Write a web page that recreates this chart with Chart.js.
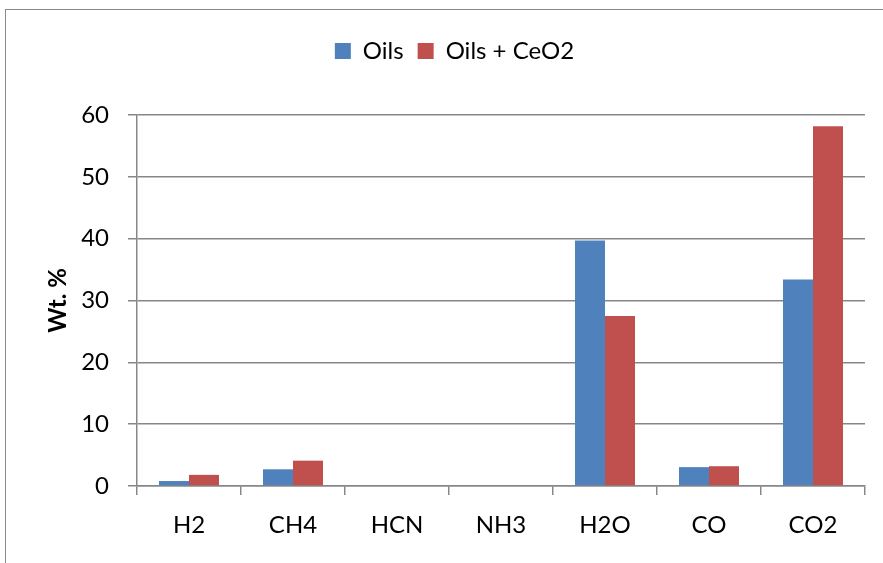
<!DOCTYPE html>
<html>
<head>
<meta charset="utf-8">
<script src="https://cdn.jsdelivr.net/npm/chart.js@4/dist/chart.umd.min.js"></script>
<style>
  html, body { margin: 0; padding: 0; background: #ffffff; overflow: hidden; }
  #wrap { position: relative; width: 883px; height: 563px; }
  #frame { position: absolute; left: 5px; top: 9px; width: 900px; height: 600px;
           border: 1.5px solid #8a8a8a; box-sizing: border-box; }
  canvas { position: absolute; left: 0; top: 0; }
</style>
</head>
<body>
<div id="wrap">
  <div id="frame"></div>
  <canvas id="chart" width="883" height="563"></canvas>
</div>
<script>
// Gas product distribution (wt. %)
const categories = ['H2', 'CH4', 'HCN', 'NH3', 'H2O', 'CO', 'CO2'];
const oils = [0.8, 2.7, 0, 0, 39.7, 3.05, 33.4];
const oilsCeO2 = [1.8, 4.1, 0, 0, 27.5, 3.2, 58.2];
const seriesNames = ['Oils', 'Oils + CeO2'];
const yTicks = [0, 10, 20, 30, 40, 50, 60];

const FONT = 'Lato, "Liberation Sans", sans-serif';
const GRID = '#878787';

// Leaves extra room between the legend and the plot area
const legendGap = {
  id: 'legendGap',
  beforeLayout(chart) {
    const lg = chart.legend;
    if (lg && !lg._gapWrapped) {
      const fit = lg.fit;
      lg.fit = function () { fit.call(this); this.height += 42; };
      lg._gapWrapped = true;
    }
  }
};

new Chart(document.getElementById('chart'), {
  type: 'bar',
  data: {
    labels: categories,
    datasets: [
      { label: seriesNames[0], data: oils, backgroundColor: '#4F81BD' },
      { label: seriesNames[1], data: oilsCeO2, backgroundColor: '#C0504D' }
    ]
  },
  plugins: [legendGap],
  options: {
    responsive: false,
    animation: false,
    events: [],
    layout: { padding: { left: 44, right: 18, top: 25, bottom: 0 } },
    datasets: { bar: { categoryPercentage: 0.577, barPercentage: 1.0 } },
    plugins: {
      tooltip: { enabled: false },
      legend: {
        position: 'top',
        labels: {
          font: { family: FONT, size: 24 },
          color: '#000000',
          boxWidth: 16,
          boxHeight: 16,
          padding: 14
        }
      }
    },
    scales: {
      x: {
        grid: { offset: true, drawOnChartArea: false, drawTicks: true, tickLength: 9,
                color: GRID, lineWidth: 1.5 },
        border: { color: GRID, width: 1.5 },
        ticks: { font: { family: FONT, size: 24 }, color: '#000000', padding: 16 },
        afterFit: (s) => { s.height = 77; }
      },
      y: {
        min: 0,
        max: 60,
        afterBuildTicks: (s) => { s.ticks = yTicks.map(v => ({ value: v })); },
        grid: { color: GRID, lineWidth: 1.5, tickLength: 9 },
        border: { color: GRID, width: 1.5 },
        ticks: { font: { family: FONT, size: 24 }, color: '#000000', padding: 19 },
        title: { display: true, text: 'Wt. %', color: '#000000',
                 font: { family: FONT, size: 24, weight: 'bold' }, padding: { top: 0 } },
        afterFit: (s) => { s.width = 93; }
      }
    }
  }
});
</script>
</body>
</html>
